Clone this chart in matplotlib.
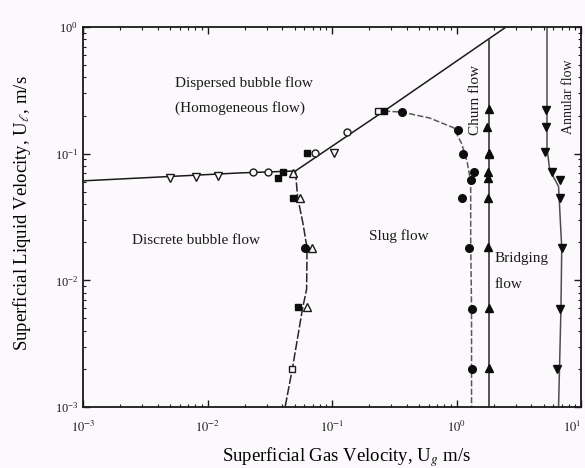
import matplotlib.pyplot as plt
from matplotlib.ticker import LogLocator, NullFormatter

# Flow regime map: superficial gas velocity vs superficial liquid velocity

# boundary lines
bub_x = [0.001, 0.0184, 0.0508, 0.262, 2.5]
bub_y = [0.061, 0.0705, 0.073, 0.217, 1.0]

disc_x = [0.0508, 0.053, 0.0585, 0.063, 0.0625, 0.058, 0.048, 0.042]
disc_y = [0.073, 0.045, 0.028, 0.018, 0.0085, 0.006, 0.002, 0.001]

slug_x = [0.262, 0.365, 0.61, 0.95, 1.1, 1.22, 1.3, 1.3, 1.32, 1.32]
slug_y = [0.217, 0.213, 0.191, 0.16, 0.12, 0.085, 0.06, 0.02, 0.006, 0.001]

churn_x = [1.82, 1.82]
churn_y = [0.786, 0.001]

ann_x = [5.33, 5.33, 5.6, 6.6, 7.0, 6.9, 6.6]
ann_y = [1.0, 0.11, 0.075, 0.055, 0.018, 0.006, 0.001]

# measured points
ot_down_x = [0.0050, 0.0081, 0.0121, 0.104]
ot_down_y = [0.0640, 0.0655, 0.0665, 0.101]

oc_x = [0.0232, 0.0304, 0.073, 0.132]
oc_y = [0.072, 0.072, 0.101, 0.148]

fs_x = [0.0368, 0.0404, 0.063, 0.262, 0.0486, 0.0533]
fs_y = [0.0643, 0.0717, 0.101, 0.217, 0.0447, 0.00617]

os_x = [0.234, 0.0477]
os_y = [0.217, 0.0020]

ot_up_x = [0.0486, 0.0554, 0.069, 0.063]
ot_up_y = [0.0700, 0.0447, 0.018, 0.00617]

fc_x = [0.365, 0.0607, 1.02, 1.12, 1.38, 1.30, 1.10, 1.26, 1.33, 1.33]
fc_y = [0.213, 0.018, 0.154, 0.099, 0.0717, 0.062, 0.0447, 0.018, 0.0059, 0.0020]

ft_up_x = [1.82, 1.76, 1.82, 1.82, 1.79, 1.79, 1.79, 1.79, 1.82, 1.82]
ft_up_y = [0.225, 0.162, 0.101, 0.0990, 0.0717, 0.0643, 0.0447, 0.0183, 0.0061, 0.00204]

ft_down_x = [5.23, 5.23, 5.13, 5.85, 6.78, 6.78, 7.03, 6.78, 6.41]
ft_down_y = [0.221, 0.162, 0.103, 0.0717, 0.062, 0.0447, 0.018, 0.0059, 0.0020]

x_ticks = [1e-3, 1e-2, 1e-1, 1e0, 1e1]
x_tick_labels = ['$10^{-3}$', '$10^{-2}$', '$10^{-1}$', '$10^{0}$', '$10^{1}$']

plt.rcParams['font.family'] = ['Liberation Serif', 'DejaVu Serif']
plt.rcParams['mathtext.fontset'] = 'stix'

bg = '#fcf9fc'
fig = plt.figure(figsize=(5.85, 4.68), dpi=100, facecolor=bg)
ax = fig.add_axes([0.1419, 0.1303, 0.8513, 0.812], facecolor=bg)
ax.set_xscale('log')
ax.set_yscale('log')
ax.set_xlim(1e-3, 1e1)
ax.set_ylim(1e-3, 1e0)

ax.plot(bub_x, bub_y, color='0.1', lw=1.1)
ax.plot(disc_x, disc_y, color='0.15', lw=1.1, dashes=(6, 1.5))
ax.plot(slug_x, slug_y, color='0.35', lw=1.1, dashes=(4, 1.5))
ax.plot(churn_x, churn_y, color='0.15', lw=1.1)
ax.plot(ann_x, ann_y, color='0.3', lw=1.1)

ms = 5.5
ax.plot(ot_down_x, ot_down_y, 'v', ms=ms, mfc=bg, mec='0.1', mew=1.0, ls='none')
ax.plot(oc_x, oc_y, 'o', ms=ms - 0.5, mfc=bg, mec='0.1', mew=1.0, ls='none')
ax.plot(ot_up_x, ot_up_y, '^', ms=ms, mfc=bg, mec='0.1', mew=1.0, ls='none')
ax.plot(os_x, os_y, 's', ms=ms - 0.5, mfc=bg, mec='0.1', mew=1.0, ls='none')
ax.plot(fs_x, fs_y, 's', ms=ms - 0.5, color='0.05', ls='none')
ax.plot(fc_x, fc_y, 'o', ms=ms, color='0.05', ls='none')
ax.plot(ft_up_x, ft_up_y, '^', ms=ms, color='0.05', ls='none')
ax.plot(ft_down_x, ft_down_y, 'v', ms=ms, color='0.05', ls='none')

# regime names
tk = dict(fontsize=11, color='0.1', va='center')
ax.text(0.0055, 0.361, 'Dispersed bubble flow', **tk)
ax.text(0.0055, 0.23, '(Homogeneous flow)', **tk)
ax.text(0.00248, 0.0208, 'Discrete bubble flow', **tk)
ax.text(0.345, 0.0224, 'Slug flow', ha='center', **tk)
ax.text(2.02, 0.0150, 'Bridging', **tk)
ax.text(2.02, 0.0092, 'flow', **tk)
ax.text(1.41, 0.265, 'Churn flow', rotation=90, ha='center', **tk)
ax.text(7.87, 0.28, 'Annular flow', rotation=90, ha='center',
        fontsize=10, color='0.1', va='center')

ax.set_xlabel('Superficial Gas Velocity, U$_g$ m/s', fontsize=13.5)
ax.xaxis.set_label_coords(0.53, -0.1)
ax.set_ylabel('Superficial Liquid Velocity, U$_\\ell$, m/s', fontsize=13.5)
ax.yaxis.set_label_coords(-0.1, 0.51)

ax.set_xticks(x_ticks, labels=x_tick_labels)
ax.yaxis.set_major_locator(LogLocator(base=10, numticks=10))
ax.xaxis.set_minor_locator(LogLocator(base=10, subs=range(2, 10), numticks=10))
ax.yaxis.set_minor_locator(LogLocator(base=10, subs=range(2, 10), numticks=10))
ax.xaxis.set_minor_formatter(NullFormatter())
ax.yaxis.set_minor_formatter(NullFormatter())
ax.tick_params(which='both', direction='in', top=True, right=True,
               labelsize=9, colors='0.1')
ax.tick_params(which='major', length=5, width=1.0)
ax.tick_params(which='minor', length=2.5, width=0.8)
ax.tick_params(axis='x', which='major', pad=9)
for s in ax.spines.values():
    s.set_linewidth(1.3)
    s.set_color('0.1')

# last x tick label sits at the right edge
ax.get_xticklabels()[-1].set_horizontalalignment('right')

fig.savefig('out.png', dpi=100, facecolor=bg)
